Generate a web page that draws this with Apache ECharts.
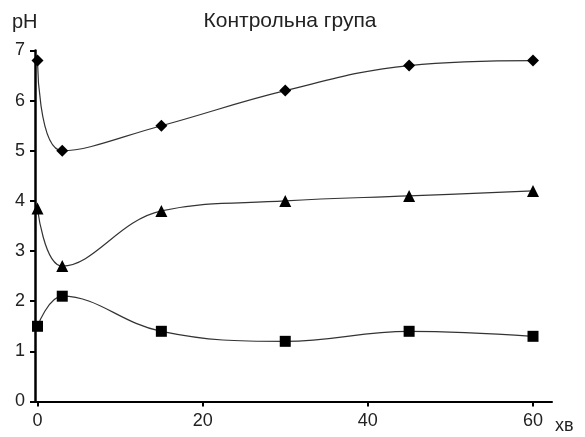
<!DOCTYPE html>
<html>
<head>
<meta charset="utf-8">
<script src="https://cdn.jsdelivr.net/npm/echarts@6/dist/echarts.min.js"></script>
<style>
  html, body { margin: 0; padding: 0; background: #fff; }
  #chart { width: 585px; height: 437px; }
</style>
</head>
<body>
<div id="chart"></div>
<script>
// Time points, minutes
const minutes = [0, 3, 15, 30, 45, 60];
// pH readings per group
const phDiamond = [6.8, 5.0, 5.5, 6.2, 6.7, 6.8];
const phTriangle = [3.85, 2.7, 3.8, 4.0, 4.1, 4.2];
const phSquare = [1.5, 2.1, 1.4, 1.2, 1.4, 1.3];
// Axis tick labels
const xTicks = [0, 20, 40, 60];
const yTicks = [0, 1, 2, 3, 4, 5, 6, 7];

const font = 'Liberation Sans, Arial, sans-serif';
const toPairs = (vals) => minutes.map((m, i) => [m, vals[i]]);

function lineSeries(vals, symbol, size) {
  return {
    type: 'line',
    data: toPairs(vals),
    smooth: 0.4,
    symbol: symbol,
    symbolSize: size,
    showAllSymbol: true,
    lineStyle: { color: '#333', width: 1.2 },
    itemStyle: { color: '#000' },
    clip: false
  };
}

const chart = echarts.init(document.getElementById('chart'), null, { renderer: 'canvas' });
chart.setOption({
  animation: false,
  backgroundColor: '#fff',
  graphic: [
    { type: 'text', x: 290, y: 21, style: { text: 'Контрольна група', font: '21px ' + font, fill: '#222', align: 'center', verticalAlign: 'middle' } },
    { type: 'text', x: 12, y: 22, style: { text: 'pH', font: '20px ' + font, fill: '#222', align: 'left', verticalAlign: 'middle' } },
    { type: 'text', x: 555, y: 426, style: { text: 'хв', font: '18px ' + font, fill: '#222', align: 'left', verticalAlign: 'middle' } }
  ],
  grid: { left: 35, right: 33, top: 50.5, bottom: 35.5, containLabel: false },
  xAxis: {
    type: 'value', min: -0.3, max: 62.3,
    axisLine: { show: true, lineStyle: { color: '#000', width: 2 } },
    axisTick: { show: true, length: 5, lineStyle: { color: '#000', width: 2 }, customValues: xTicks },
    axisLabel: { customValues: xTicks, fontFamily: font, fontSize: 18, color: '#222', margin: 11 },
    splitLine: { show: false }
  },
  yAxis: {
    type: 'value', min: 0, max: 7, interval: 1,
    axisLine: { show: true, onZero: false, lineStyle: { color: '#000', width: 2.5 } },
    axisTick: { show: true, length: 5, lineStyle: { color: '#000', width: 2 }, customValues: yTicks },
    axisLabel: { customValues: yTicks, fontFamily: font, fontSize: 18, color: '#222', margin: 10 },
    splitLine: { show: false }
  },
  series: [
    lineSeries(phDiamond, 'diamond', 12),
    lineSeries(phTriangle, 'triangle', 12),
    lineSeries(phSquare, 'rect', 11)
  ]
});
</script>
</body>
</html>
